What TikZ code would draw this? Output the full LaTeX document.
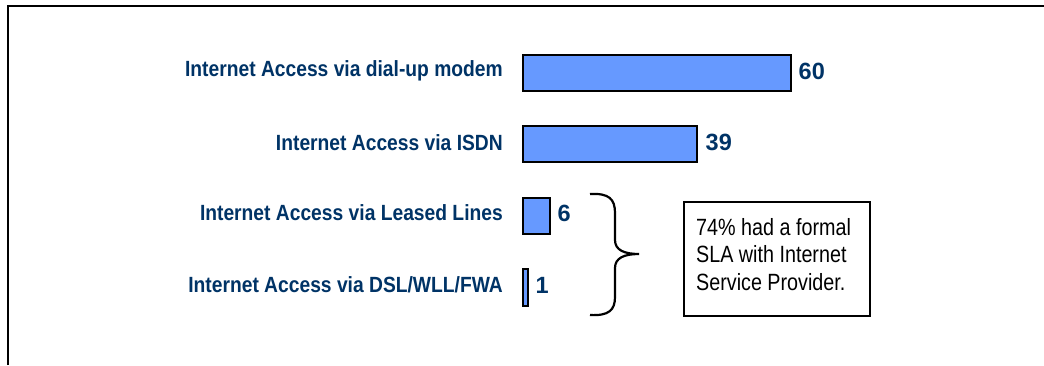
\documentclass[tikz,border=0pt]{standalone}
\usepackage{fontspec}
\newfontfamily\labelfont[FakeStretch=0.875]{Liberation Sans}
\newfontfamily\numfont{Liberation Sans}
\newfontfamily\notefont[FakeStretch=0.84]{Liberation Sans}
\definecolor{navy}{RGB}{0,51,102}
\definecolor{barblue}{RGB}{102,153,255}
\tikzset{
  frameline/.style={line width=2.2pt, black},
  bar/.style={draw=black, line width=1.5pt, fill=barblue, inner sep=0pt, anchor=north west},
  rowlabel/.style={inner sep=0pt, anchor=base east, text=navy, font=\labelfont\bfseries\fontsize{22}{26}\selectfont},
  num/.style={inner sep=0pt, anchor=base west, text=navy, font=\numfont\bfseries\fontsize{23.5}{28}\selectfont},
  notebox/.style={draw=black, line width=1.5pt, inner sep=0pt, anchor=north west},
  notetext/.style={inner sep=0pt, anchor=north west, align=left, font=\notefont\fontsize{23.5}{27.5}\selectfont},
  bracepath/.style={line width=2.2pt, black}
}
\begin{document}
\begin{tikzpicture}[x=1pt,y=-1pt]
  \useasboundingbox (0,0) rectangle (1044,365);
  % open frame: top and left edges
  \draw[frameline] (8,365) -- (8,6) -- (1044,6);

  % bars (4.47 px per unit)
  \node[bar, minimum width=268, minimum height=36] (b60) at (522,54) {};
  \node[bar, minimum width=174, minimum height=36] (b39) at (522,125) {};
  \node[bar, minimum width=27,  minimum height=36] (b6)  at (522,197) {};
  \node[bar, minimum width=5,   minimum height=37] (b1)  at (522,268) {};

  % category labels
  \node[rowlabel] (l60) at (503,76)  {Internet Access via dial-up modem};
  \node[rowlabel] (l39) at (503,150) {Internet Access via ISDN};
  \node[rowlabel] (l6)  at (503,220) {Internet Access via Leased Lines};
  \node[rowlabel] (l1)  at (503,292) {Internet Access via DSL/WLL/FWA};

  % values
  \node[num] (n60) at ([shift={(7,6.5)}]b60.east) {60};
  \node[num] (n39) at ([shift={(8,7)}]b39.east) {39};
  \node[num] (n6)  at ([shift={(7,6)}]b6.east) {6};
  \node[num] (n1)  at ([shift={(7,6.5)}]b1.east) {1};

  % brace grouping the last two rows
  \draw[bracepath] (590,194) .. controls (609,193) and (615,199) .. (615,213)
    -- (615,240) .. controls (615,250) and (624,254) .. (639,254)
    .. controls (624,254) and (615,258) .. (615,268)
    -- (615,297) .. controls (615,310) and (609,316) .. (590,315);

  % note box
  \node[notebox, minimum width=186, minimum height=114] (sla) at (683,201) {};
  \node[notetext] (slatext) at (696,218) {74\% had a formal\\SLA with Internet\\Service Provider.};
\end{tikzpicture}
\end{document}
